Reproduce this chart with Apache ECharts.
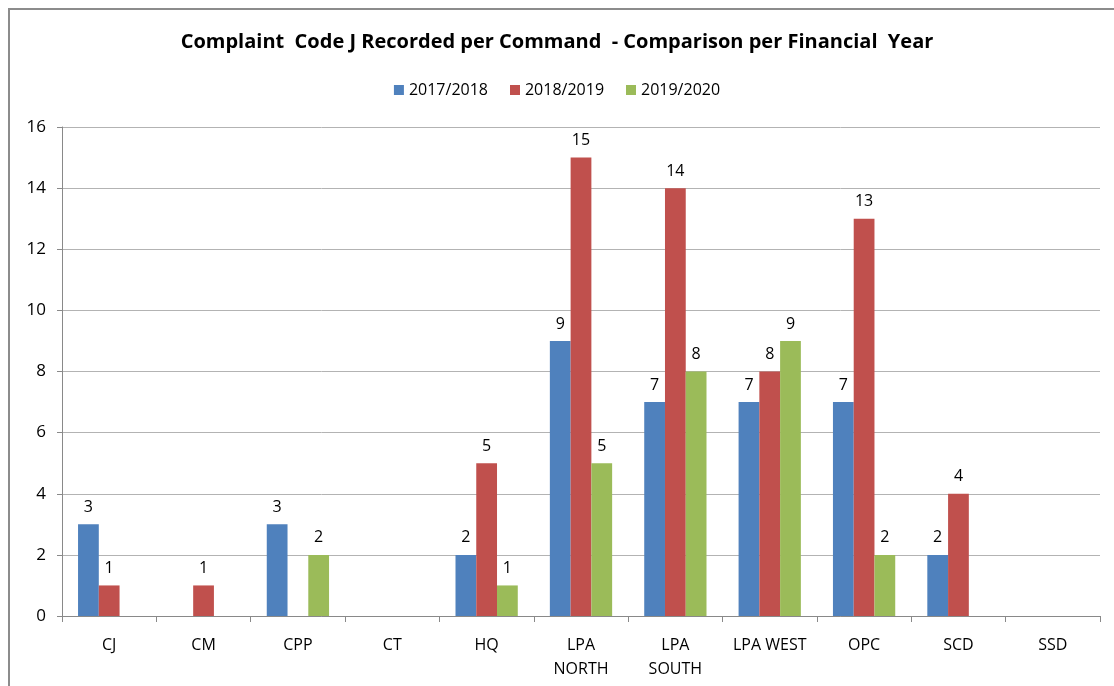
<!DOCTYPE html>
<html>
<head>
<meta charset="utf-8">
<title>Complaint Code J</title>
<script src="https://cdn.jsdelivr.net/npm/echarts@6/dist/echarts.min.js"></script>
<style>
html,body{margin:0;padding:0;background:#fff;}
#main{width:1114px;height:686px;}
</style>
</head>
<body>
<div id="main"></div>
<script>
// commands along the x axis
var commands = ['CJ','CM','CPP','CT','HQ','LPA\nNORTH','LPA\nSOUTH','LPA WEST','OPC','SCD','SSD'];
var years = ['2017/2018','2018/2019','2019/2020'];
// '-' = nothing recorded
var fy1718 = [3,'-',3,'-',2,9,7,7,7,2,'-'];
var fy1819 = [1,1,'-','-',5,15,14,8,13,4,'-'];
var fy1920 = ['-','-',2,'-',1,5,8,9,2,'-','-'];
var colors = ['#4f81bd','#c0504d','#9bbb59'];

var font = 'Open Sans, Liberation Sans, sans-serif';
var chart = echarts.init(document.getElementById('main'));

function mk(name,data,i){
	return {
		name:name,
		type:'bar',
		data:data,
		barGap:'0%',
		barCategoryGap:'34%',
		itemStyle:{color:colors[i]},
		label:{show:true,position:'top',distance:9,color:'#000',fontSize:16,fontFamily:font}
	};
}

chart.setOption({
	animation:false,
	title:{
		text:'Complaint  Code J Recorded per Command  - Comparison per Financial  Year',
		left:'center',top:27,
		textStyle:{fontSize:20,fontWeight:'bold',color:'#000',fontFamily:font}
	},
	legend:{
		top:77,left:'center',
		itemWidth:10,itemHeight:10,itemGap:22,
		icon:'rect',
		textStyle:{fontSize:16,color:'#000',fontFamily:font},
		data:years
	},
	grid:{left:62,right:14,top:127,bottom:70,containLabel:false},
	xAxis:{
		type:'category',
		data:commands,
		axisLine:{lineStyle:{color:'#898989',width:1}},
		axisTick:{show:true,alignWithLabel:false,length:6,lineStyle:{color:'#898989'}},
		axisLabel:{color:'#000',fontSize:16,fontFamily:font,margin:17,interval:0,lineHeight:24}
	},
	yAxis:{
		type:'value',
		min:0,max:16,interval:2,
		axisLine:{show:true,lineStyle:{color:'#898989'}},
		axisTick:{show:true,length:5,lineStyle:{color:'#898989'}},
		splitLine:{lineStyle:{color:'#b3b3b3'}},
		axisLabel:{color:'#000',fontSize:17,fontFamily:font,margin:16}
	},
	graphic:[{
		type:'rect',
		shape:{x:9,y:9,width:1130,height:700},
		style:{fill:'none',stroke:'#8c8c8c',lineWidth:2},
		silent:true
	}],
	series:[mk(years[0],fy1718,0),mk(years[1],fy1819,1),mk(years[2],fy1920,2)]
});
</script>
</body>
</html>
